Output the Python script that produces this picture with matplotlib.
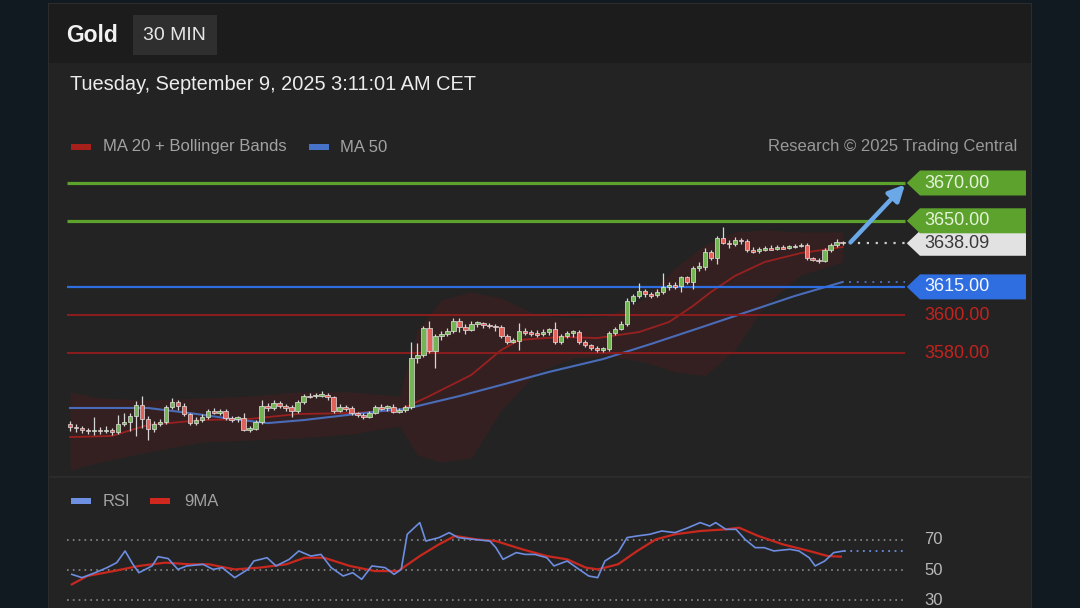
import matplotlib
matplotlib.use("Agg")
import matplotlib.pyplot as plt
from matplotlib.patches import Rectangle, Polygon

plt.rcParams['font.family'] = ['Liberation Sans', 'DejaVu Sans']

W, H = 1080, 608

# ---- candles (30 min) ----
opens = [3542.5, 3541.0, 3540.5, 3539.5, 3538.5, 3539.5, 3538.5, 3539.5, 3538.0, 3542.5,
         3543.5, 3546.5, 3552.5, 3545.0, 3540.0, 3542.5, 3543.5, 3551.5, 3554.0, 3552.0,
         3547.5, 3543.0, 3544.5, 3546.0, 3549.5, 3548.5, 3549.5, 3545.5, 3545.0, 3545.5,
         3539.5, 3540.0, 3543.5, 3552.0, 3551.0, 3553.5, 3552.0, 3551.5, 3549.5, 3554.0,
         3557.5, 3557.0, 3557.5, 3558.0, 3556.5, 3549.5, 3551.5, 3551.0, 3548.0, 3547.0,
         3546.0, 3548.0, 3551.5, 3551.0, 3551.5, 3549.0, 3550.0, 3551.5, 3577.5, 3579.0,
         3593.0, 3581.0, 3589.0, 3590.0, 3591.5, 3597.0, 3594.0, 3592.0, 3595.5, 3596.0,
         3595.0, 3594.5, 3594.0, 3589.0, 3586.0, 3586.5, 3591.5, 3591.0, 3590.5, 3590.0,
         3591.0, 3592.5, 3586.0, 3589.0, 3590.5, 3591.0, 3586.0, 3584.0, 3582.5, 3581.5,
         3582.0, 3590.5, 3592.5, 3595.5, 3607.5, 3610.0, 3613.0, 3611.0, 3610.5, 3612.5,
         3615.0, 3616.0, 3615.5, 3620.0, 3617.5, 3625.0, 3625.5, 3633.5, 3630.5, 3641.0,
         3638.5, 3637.5, 3640.0, 3639.5, 3634.5, 3634.0, 3634.5, 3635.5, 3635.0, 3636.0,
         3635.5, 3636.0, 3636.5, 3637.0, 3630.5, 3629.5, 3628.5, 3634.5, 3637.0, 3639.0]
closes = [3541.0, 3540.5, 3539.5, 3538.5, 3539.5, 3538.5, 3539.5, 3538.0, 3542.5, 3543.5,
          3546.5, 3552.5, 3545.0, 3540.0, 3542.5, 3543.5, 3551.5, 3554.0, 3552.0, 3547.5,
          3543.0, 3544.5, 3546.0, 3549.5, 3548.5, 3549.5, 3545.5, 3545.0, 3545.5, 3539.5,
          3540.0, 3543.5, 3552.0, 3551.0, 3553.5, 3552.0, 3551.5, 3549.5, 3554.0, 3557.5,
          3557.0, 3557.5, 3558.0, 3556.5, 3549.5, 3551.5, 3551.0, 3548.0, 3547.0, 3546.0,
          3548.0, 3551.5, 3551.0, 3551.5, 3549.0, 3550.0, 3551.5, 3577.5, 3579.0, 3593.0,
          3581.0, 3589.0, 3590.0, 3591.5, 3597.0, 3594.0, 3592.0, 3595.5, 3596.0, 3595.0,
          3594.5, 3594.0, 3589.0, 3586.0, 3586.5, 3591.5, 3591.0, 3590.5, 3590.0, 3591.0,
          3592.5, 3586.0, 3589.0, 3590.5, 3591.0, 3586.0, 3584.0, 3582.5, 3581.5, 3582.0,
          3590.5, 3592.5, 3595.5, 3607.5, 3610.0, 3613.0, 3611.0, 3610.5, 3612.5, 3615.0,
          3616.0, 3615.5, 3620.0, 3617.5, 3625.0, 3625.5, 3633.5, 3630.5, 3641.0, 3638.5,
          3637.5, 3640.0, 3639.5, 3634.5, 3634.0, 3634.5, 3635.5, 3635.0, 3636.0, 3635.5,
          3636.0, 3636.5, 3637.0, 3630.5, 3629.5, 3628.5, 3634.5, 3637.0, 3639.0, 3638.09]
highs = [3544.0, 3542.5, 3541.5, 3540.5, 3546.0, 3541.0, 3541.5, 3540.5, 3547.0, 3548.5,
         3548.0, 3554.5, 3557.5, 3546.5, 3544.0, 3545.0, 3552.5, 3556.0, 3555.0, 3553.5,
         3548.5, 3546.0, 3547.5, 3550.5, 3551.0, 3550.5, 3550.5, 3546.5, 3546.5, 3548.0,
         3541.5, 3544.5, 3555.0, 3553.5, 3555.0, 3554.5, 3553.0, 3552.5, 3555.0, 3558.5,
         3559.0, 3559.0, 3560.0, 3559.0, 3557.5, 3553.0, 3552.5, 3552.0, 3549.0, 3548.0,
         3549.5, 3552.5, 3553.0, 3552.5, 3553.0, 3551.0, 3552.5, 3586.0, 3585.5, 3594.5,
         3597.0, 3590.0, 3591.5, 3593.0, 3598.5, 3598.5, 3595.5, 3597.0, 3597.0, 3596.5,
         3596.0, 3595.5, 3595.0, 3590.0, 3588.0, 3596.0, 3593.0, 3592.0, 3592.0, 3592.5,
         3593.0, 3596.5, 3590.0, 3591.5, 3592.0, 3592.0, 3587.0, 3585.0, 3583.5, 3583.0,
         3591.5, 3594.0, 3597.0, 3609.0, 3611.5, 3617.0, 3614.0, 3612.5, 3614.0, 3622.5,
         3617.5, 3617.5, 3621.0, 3621.0, 3626.0, 3628.0, 3635.5, 3634.5, 3642.0, 3646.5,
         3640.0, 3641.5, 3641.0, 3640.5, 3636.0, 3636.0, 3636.5, 3637.0, 3637.0, 3637.0,
         3637.0, 3637.5, 3638.0, 3638.0, 3631.0, 3630.5, 3635.5, 3638.5, 3640.5, 3639.5]
lows = [3538.5, 3538.0, 3537.5, 3537.0, 3536.5, 3537.0, 3537.5, 3536.5, 3537.0, 3541.5,
        3538.5, 3536.0, 3540.5, 3534.0, 3538.0, 3541.5, 3542.5, 3550.5, 3550.0, 3546.5,
        3542.0, 3542.0, 3543.5, 3545.0, 3547.5, 3547.0, 3544.5, 3543.5, 3543.5, 3538.5,
        3538.0, 3539.0, 3542.5, 3549.5, 3550.0, 3551.0, 3549.5, 3546.0, 3548.5, 3553.0,
        3556.0, 3556.0, 3556.5, 3555.0, 3548.5, 3549.0, 3549.5, 3547.0, 3546.0, 3545.0,
        3545.5, 3547.5, 3550.0, 3549.5, 3548.0, 3548.0, 3549.0, 3550.5, 3574.5, 3578.0,
        3580.0, 3572.0, 3587.0, 3589.0, 3590.5, 3591.0, 3590.0, 3591.5, 3594.0, 3593.5,
        3593.0, 3591.5, 3588.0, 3585.0, 3585.5, 3581.5, 3589.5, 3589.0, 3588.5, 3589.0,
        3589.5, 3585.0, 3585.0, 3588.0, 3588.5, 3585.0, 3583.0, 3581.5, 3580.5, 3580.5,
        3581.0, 3589.5, 3592.0, 3594.5, 3606.0, 3609.0, 3609.5, 3609.0, 3609.5, 3611.5,
        3613.5, 3614.0, 3612.5, 3616.5, 3614.0, 3623.5, 3624.0, 3629.0, 3627.0, 3637.5,
        3635.5, 3636.5, 3637.5, 3633.5, 3633.0, 3633.0, 3634.0, 3634.5, 3634.5, 3635.0,
        3635.0, 3635.5, 3636.0, 3629.5, 3628.5, 3627.5, 3628.0, 3633.5, 3636.0, 3637.0]

# ---- indicators (sampled at candle positions) ----
ma50_idx = [0, 13, 20, 27, 33, 39, 45, 52, 56, 65, 72, 80, 89, 97, 105, 113, 121, 129]
ma50_val = [3550.9, 3550.9, 3548.2, 3545.1, 3542.9, 3544.5, 3546.7, 3549.3, 3550.4, 3557.2,
            3563.1, 3570.0, 3576.8, 3584.8, 3593.2, 3601.7, 3610.2, 3617.6]

ma20_idx = [0, 7, 13, 22, 30, 38, 47, 55, 60, 67, 72, 75, 82, 88, 95, 100, 104, 107, 111,
            116, 122, 129]
ma20_val = [3535.5, 3536.1, 3541.9, 3544.5, 3545.1, 3547.7, 3548.2, 3549.8, 3557.2, 3568.4,
            3581.6, 3586.9, 3588.5, 3587.9, 3591.1, 3596.4, 3604.9, 3612.3, 3620.8, 3628.2,
            3632.9, 3636.1]

bb_idx = [0, 5, 13, 22, 30, 38, 47, 55, 58, 62, 67, 72, 78, 84, 90, 96, 101, 106, 111, 116,
          122, 129]
bb_upper = [3559.4, 3556.2, 3555.1, 3556.2, 3557.2, 3559.4, 3559.4, 3557.2, 3592.2, 3608.1,
            3612.3, 3609.1, 3600.1, 3598.5, 3599.6, 3609.1, 3625.0, 3637.2, 3644.1, 3645.1,
            3644.1, 3644.1]
bb_lower = [3518.1, 3522.3, 3527.6, 3532.9, 3533.9, 3535.0, 3537.1, 3541.4, 3526.0, 3522.3,
            3524.4, 3549.8, 3570.0, 3577.4, 3578.4, 3575.2, 3570.0, 3568.0, 3581.6, 3605.4,
            3621.3, 3628.2]

rsi_idx = [0.3, 2, 4.2, 6.2, 7.8, 9.2, 10.5, 11.5, 13.7, 14.7, 16.4, 18, 19.5, 22.2, 23.9,
           25.4, 27.5, 29.7, 30.7, 32.9, 34.4, 36.6, 38.2, 40.2, 41.9, 43.6, 45.6, 47.2, 48.7,
           50.4, 52.6, 54.1, 55.3, 56.3, 58.4, 59.4, 61.6, 63.3, 64.8, 67.4, 70.1, 71.1, 72.3,
           74.5, 76, 77.6, 79.6, 80.8, 83, 85, 86.6, 88.1, 89.3, 91.5, 93, 94.7, 96.8, 98.8,
           101, 103.2, 105.2, 106.8, 107.8, 109.5, 111.2, 112.7, 114.4, 115.9, 117.5, 120.2,
           121.7, 123.4, 124.4, 126, 127.5, 129.2]
rsi_val = [47.1, 44.9, 48.2, 51.6, 54.9, 62.7, 53.8, 48.2, 52.7, 58.9, 57.6, 50.4, 52.7, 53.8,
           50.4, 51.6, 44.9, 50.4, 56.0, 58.2, 52.7, 57.1, 62.7, 59.3, 60.4, 51.6, 46.0, 48.2,
           43.8, 52.7, 51.6, 47.1, 50.4, 73.8, 81.6, 69.3, 71.6, 74.9, 71.6, 70.4, 69.3, 64.9,
           57.1, 61.6, 60.4, 60.4, 58.2, 52.7, 56.0, 50.4, 46.0, 44.9, 56.0, 61.6, 71.6, 72.7,
           73.8, 76.0, 74.9, 78.2, 81.6, 79.3, 81.6, 77.1, 77.1, 70.4, 64.9, 64.9, 62.7, 63.8,
           62.7, 58.2, 52.7, 56.0, 61.6, 62.7]

rsi_ma_idx = [0.3, 2.9, 7.3, 11.5, 15.9, 20, 23.2, 27.5, 31.7, 36.1, 39.2, 42.4, 46.7, 50.9,
              54.8, 58.4, 61.6, 64.3, 67.9, 71.1, 75.5, 79.6, 83, 86.1, 88.1, 91.5, 94.7,
              97.8, 101, 105.2, 109.5, 111.7, 114.9, 119, 123.4, 126.5, 128.7]
rsi_ma_val = [40.4, 46.0, 49.3, 52.7, 54.9, 53.8, 53.8, 50.4, 51.6, 53.8, 58.2, 58.2, 52.7,
              49.3, 49.3, 59.3, 67.1, 72.7, 70.4, 69.3, 63.8, 59.3, 57.1, 51.6, 50.4, 53.8,
              62.7, 70.4, 73.8, 76.0, 77.1, 78.2, 72.7, 67.1, 62.7, 59.3, 58.9]

# key levels: (price, kind)
levels = [(3670.00, 'res'), (3650.00, 'res'), (3615.00, 'pivot'),
          (3600.00, 'sup'), (3580.00, 'sup')]
last_price = 3638.09
rsi_levels = [70, 50, 30]

# ---- colours ----
OUTER = '#111921'
HEAD = '#1c1c1c'
BODY = '#232323'
GREEN = '#5ca22c'
BLUE = '#2f6ee0'
RED = '#8c1c1c'
RED_TXT = '#c2231f'
MA50_C = '#4a6cb8'
MA20_C = '#9a2020'
UP_C = '#72b552'
DN_C = '#e0625a'
WICK = '#d6d6d6'
GREY_TXT = '#a2a2a2'


def px_rect(x0, y0, x1, y1, color):
    fig.add_artist(Rectangle((x0 / W, 1 - y1 / H), (x1 - x0) / W, (y1 - y0) / H,
                             transform=fig.transFigure, facecolor=color,
                             edgecolor='none', zorder=-5))


fig = plt.figure(figsize=(W / 100, H / 100), dpi=100)
fig.patch.set_facecolor(OUTER)

# card
px_rect(48, 3, 1032, 608, '#2c2c2c')
px_rect(49, 4, 1031, 608, BODY)
px_rect(49, 4, 1031, 63, HEAD)
px_rect(133, 15, 217, 55, '#2f2f2f')
px_rect(49, 476, 1031, 478, '#2b2b2b')

fig.text(66 / W, 1 - 35 / H, 'Gold', color='#f2f2f2', fontsize=16.5,
         fontweight='bold', va='center')
fig.text(143 / W, 1 - 35 / H, '30 MIN', color='#e6e6e6', fontsize=14, va='center')
fig.text(70 / W, 1 - 85 / H, 'Tuesday, September 9, 2025 3:11:01 AM CET',
         color='#ececec', fontsize=14.4, va='center')

# legends
px_rect(71, 144, 91, 150, '#a8201c')
fig.text(103 / W, 1 - 147 / H, 'MA 20 + Bollinger Bands', color=GREY_TXT,
         fontsize=12, va='center')
px_rect(309, 144, 329, 150, '#4673c8')
fig.text(340 / W, 1 - 147 / H, 'MA 50', color=GREY_TXT, fontsize=12, va='center')
fig.text(1017 / W, 1 - 147 / H, 'Research \u00a9 2025 Trading Central', color='#999999',
         fontsize=12, va='center', ha='right')

px_rect(71, 498, 91, 504, '#6f8fe2')
fig.text(103 / W, 1 - 501 / H, 'RSI', color=GREY_TXT, fontsize=12, va='center')
px_rect(150, 498, 170, 504, '#d0281e')
fig.text(184 / W, 1 - 501 / H, '9MA', color=GREY_TXT, fontsize=12, va='center')

# ---- main price panel ----
ax = fig.add_axes([67 / W, 1 - 475 / H, 960 / W, 310 / H])
ax.set_facecolor('none')
ax.set_xlim(-0.5, 159.77)
ax.set_ylim(3515.42, 3679.53)
ax.axis('off')

LINE_END = 139.4
TIP_X, BOX_X, BOX_END, TXT_X = 139.7, 141.9, 159.6, 142.6
ppu = 310 / (3679.53 - 3515.42)  # pixels per price unit

ax.fill_between(bb_idx, bb_upper, bb_lower, color='#7a1818', alpha=0.2, lw=0, zorder=1)
ax.plot(ma20_idx, ma20_val, color=MA20_C, lw=1.3, zorder=2)
ax.plot(ma50_idx, ma50_val, color=MA50_C, lw=1.5, zorder=2)

for price, kind in levels:
    c = {'res': GREEN, 'pivot': BLUE, 'sup': RED}[kind]
    lw = {'res': 2.3, 'pivot': 1.6, 'sup': 1.4}[kind]
    ax.hlines(price, -0.5, LINE_END, color=c, lw=lw, zorder=3)

# candles
for i, (o, c, h, l) in enumerate(zip(opens, closes, highs, lows)):
    ax.vlines(i, l, h, color=WICK, lw=0.9, zorder=4)
    body = c - o
    if abs(body) < 0.9:
        body = 0.9 if body >= 0 else -0.9
    ax.bar(i, body, bottom=o, width=0.75, color=UP_C if c >= o else DN_C,
           edgecolor='#e4e4e4', linewidth=0.5, zorder=5)

# dotted extensions
ax.hlines(last_price, len(closes), LINE_END, color='#cfcfcf', lw=1.6,
          linestyles=(0, (1, 3)), zorder=3)
ax.hlines(ma50_val[-1], len(closes), LINE_END, color=MA50_C, lw=1.4,
          linestyles=(0, (1, 3)), zorder=3)

# right-hand price tags
half = 12.5 / ppu


def tag(price, face, txt_color):
    poly = Polygon([(TIP_X, price), (BOX_X, price - half), (BOX_END, price - half),
                    (BOX_END, price + half), (BOX_X, price + half)],
                   closed=True, facecolor=face, edgecolor='none', zorder=6,
                   clip_on=False)
    ax.add_patch(poly)
    ax.text(TXT_X, price, f'{price:.2f}', color=txt_color, fontsize=13,
            va='center', ha='left', zorder=7, clip_on=False)


tag(last_price, '#e2e2e2', '#3a3a3a')
for price, kind in levels:
    if kind == 'res':
        tag(price, GREEN, '#e6f3da')
    elif kind == 'pivot':
        tag(price, BLUE, '#f4f7ff')
    else:
        ax.text(TXT_X, price, f'{price:.2f}', color=RED_TXT, fontsize=13,
                va='center', ha='left', clip_on=False)

# target arrow
ax.annotate('', xy=(LINE_END, levels[0][0] - 0.8), xytext=(len(closes) + 0.3, last_price + 0.5),
            arrowprops=dict(arrowstyle='-|>', color='#6aa8e8', lw=3.2,
                            mutation_scale=24, shrinkA=0, shrinkB=0), zorder=8)

# ---- RSI panel ----
ax2 = fig.add_axes([67 / W, 0, 960 / W, 130 / H])
ax2.set_facecolor('none')
ax2.set_xlim(-0.5, 159.77)
ax2.set_ylim(24.67, 111.33)
ax2.axis('off')

for lv in rsi_levels:
    ax2.hlines(lv, -0.5, LINE_END, color='#8a8a8a', lw=1.2, linestyles=(0, (1, 2.5)))
    ax2.text(TXT_X, lv, str(lv), color='#b8b8b8', fontsize=12, va='center', ha='left')

ax2.plot(rsi_idx, rsi_val, color='#6c8de0', lw=1.2, zorder=3)
ax2.plot(rsi_ma_idx, rsi_ma_val, color='#c8281e', lw=1.6, zorder=2)
ax2.hlines(rsi_val[-1], rsi_idx[-1], LINE_END, color='#6c8de0', lw=1.3,
           linestyles=(0, (1, 2.5)))

fig.savefig('out.png', dpi=100, facecolor=fig.get_facecolor())
